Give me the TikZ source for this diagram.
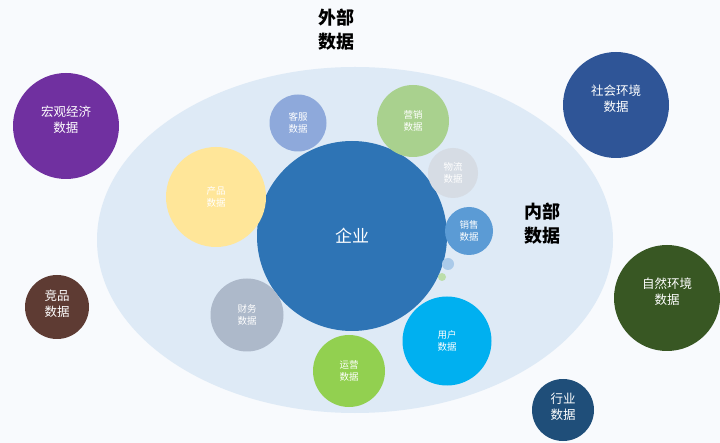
\documentclass[tikz,border=0pt]{standalone}
\usepackage{fontspec}
\usepackage{tikz}
\usetikzlibrary{shapes.geometric}

\newfontfamily\cjk{Noto Sans CJK SC}

\definecolor{fondo}{HTML}{F8FAFD}
\definecolor{zonaInterna}{HTML}{DEEAF6}
\definecolor{azulEmpresa}{HTML}{2E74B5}
\definecolor{azulCliente}{HTML}{8EA9DB}
\definecolor{verdeMarketing}{HTML}{A9D18E}
\definecolor{grisLogistica}{HTML}{D6DCE4}
\definecolor{azulVentas}{HTML}{5B9BD5}
\definecolor{amarilloProducto}{HTML}{FFE699}
\definecolor{grisFinanzas}{HTML}{ADB9CA}
\definecolor{verdeOperacion}{HTML}{92D050}
\definecolor{celesteUsuario}{HTML}{00B0F0}
\definecolor{moradoMacro}{HTML}{7030A0}
\definecolor{marronCompetencia}{HTML}{5E3B33}
\definecolor{azulSocial}{HTML}{2F5597}
\definecolor{verdeNatural}{HTML}{385723}
\definecolor{azulIndustria}{HTML}{1F4E79}

\begin{document}
\begin{tikzpicture}[
    x=1pt, y=-1pt,
    % Estilo base de las burbujas
    burbuja/.style={
        circle,
        draw=none,
        inner sep=0pt,
        align=center,
        text=white
    },
    % Burbujas dentro de la elipse (datos internos)
    burbujaInterna/.style={
        burbuja,
        font=\cjk\fontsize{9.5}{12}\selectfont
    },
    % Burbujas fuera de la elipse (datos externos)
    burbujaExterna/.style={
        burbuja,
        text depth=13pt,
        font=\cjk\fontsize{12.5}{16}\selectfont
    },
    % Titulos en negro
    titulo/.style={
        align=center,
        text=black,
        font=\cjk\bfseries\fontsize{18}{24}\selectfont
    }
]

    % --- FONDO Y ELIPSE ---
    \fill[fondo] (0,0) rectangle (720,443);
    \node[ellipse, fill=zonaInterna, minimum width=516pt, minimum height=346pt] (interno) at (355,240) {};

    % --- TITULOS ---
    \node[titulo] (externoTit) at (336,30)  {外部\\数据};
    \node[titulo] (internoTit) at (542,224) {内部\\数据};

    % --- EMPRESA (centro) ---
    \node[burbuja, fill=azulEmpresa, minimum size=190pt, font=\cjk\fontsize{17}{20}\selectfont] (empresa) at (352,236) {企业};

    % --- BURBUJAS INTERNAS ---
    \node[burbujaInterna, fill=azulCliente,      minimum size=57pt]  (cliente)   at (298,123) {客服\\数据};
    \node[burbujaInterna, fill=verdeMarketing,   minimum size=72pt]  (marketing) at (413,121) {营销\\数据};
    \node[burbujaInterna, fill=grisLogistica,    minimum size=50pt]  (logistica) at (453,173) {物流\\数据};
    \node[burbujaInterna, fill=azulVentas,       minimum size=48pt]  (ventas)    at (469,231) {销售\\数据};
    \node[burbujaInterna, fill=amarilloProducto, minimum size=100pt] (producto)  at (216,197) {产品\\数据};
    \node[burbujaInterna, fill=grisFinanzas,     minimum size=73pt]  (finanzas)  at (247,315) {财务\\数据};
    \node[burbujaInterna, fill=verdeOperacion,   minimum size=72pt]  (operacion) at (349,371) {运营\\数据};
    \node[burbujaInterna, fill=celesteUsuario,   minimum size=89pt]  (usuario)   at (447,341) {用户\\数据};
    \node[burbuja, fill=azulVentas!40!zonaInterna,     minimum size=12pt] (puntoAzul)  at (448,264) {};
    \node[burbuja, fill=verdeOperacion!45!zonaInterna, minimum size=8pt]  (puntoVerde) at (442,277) {};

    % --- BURBUJAS EXTERNAS ---
    \node[burbujaExterna, fill=moradoMacro,       minimum size=106pt] (macro)       at (66,126)  {宏观经济\\数据};
    \node[burbujaExterna, fill=marronCompetencia, minimum size=64pt, text depth=8pt] (competencia) at (57,307) {竞品\\数据};
    \node[burbujaExterna, fill=azulSocial,        minimum size=106pt] (social)      at (616,105) {社会环境\\数据};
    \node[burbujaExterna, fill=verdeNatural,      minimum size=106pt] (natural)     at (667,298) {自然环境\\数据};
    \node[burbujaExterna, fill=azulIndustria,     minimum size=62pt, text depth=8pt]  (industria)   at (563,410) {行业\\数据};

\end{tikzpicture}
\end{document}
